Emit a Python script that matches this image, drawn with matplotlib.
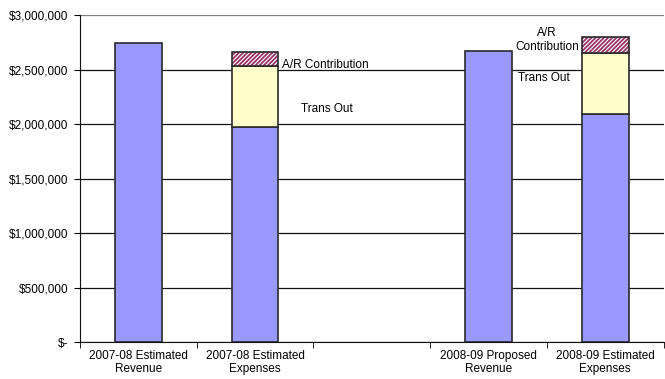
from matplotlib import pyplot as plt
from matplotlib.ticker import FuncFormatter

plt.rcParams['font.family'] = ['Liberation Sans', 'DejaVu Sans']
plt.rcParams['font.size'] = 8.5
plt.rcParams['hatch.linewidth'] = 1.3

categories = ['2007-08 Estimated\nRevenue', '2007-08 Estimated\nExpenses', '',
              '2008-09 Proposed\nRevenue', '2008-09 Estimated\nExpenses']
base = [2740000, 1972000, 0, 2670000, 2090000]
trans_out = [0, 560000, 0, 0, 560000]
ar_contribution = [0, 128000, 0, 0, 150000]

x = list(range(len(categories)))
width = 0.4
mid = [b + t for b, t in zip(base, trans_out)]
total = [m + a for m, a in zip(mid, ar_contribution)]

fig = plt.figure(figsize=(6.65, 3.79), dpi=100)
ax = fig.add_axes([0.120, 0.0976, 0.878, 0.8628])

shown = [i for i in x if total[i] > 0]
stacked = [i for i in x if ar_contribution[i] > 0]

ax.bar(shown, [base[i] for i in shown], width, color='#9999FF',
       edgecolor='#2a2a2a', linewidth=1.2, zorder=3)
ax.bar(stacked, [trans_out[i] for i in stacked], width,
       bottom=[base[i] for i in stacked], color='#FFFFCC',
       edgecolor='#2a2a2a', linewidth=1.2, zorder=3)
# hatch drawn in purple, outline drawn separately in black
ax.bar(stacked, [ar_contribution[i] for i in stacked], width,
       bottom=[mid[i] for i in stacked], color='white', hatch='////////',
       edgecolor='#993366', linewidth=0, zorder=3)
ax.bar(stacked, [ar_contribution[i] for i in stacked], width,
       bottom=[mid[i] for i in stacked], fill=False,
       edgecolor='#2a2a2a', linewidth=1.2, zorder=4)

ax.text(1.235, 2540000, 'A/R Contribution', ha='left', va='center')
ax.text(1.39, 2140000, 'Trans Out', ha='left', va='center')
ax.text(3.5, 2770000, 'A/R\nContribution', ha='center', va='center',
        linespacing=1.3)
ax.text(3.47, 2420000, 'Trans Out', ha='center', va='center')

ax.set_xlim(-0.5, len(categories) - 0.5)
ax.set_ylim(0, 3000000)
ax.set_yticks(range(0, 3000001, 500000))
ax.yaxis.set_major_formatter(FuncFormatter(
    lambda v, p: '$-' if v == 0 else '${:,.0f}'.format(v)))
ax.set_xticks(x)
ax.set_xticklabels(categories, linespacing=1.1)
ax.set_xticks([i - 0.5 for i in range(len(categories) + 1)], minor=True)
ax.tick_params(axis='x', which='major', length=0, pad=6)
ax.tick_params(axis='x', which='minor', length=4, direction='out')
ax.tick_params(axis='y', length=4, direction='out', pad=4)

ax.grid(axis='y', color='#111111', linewidth=0.9, zorder=0)
ax.yaxis.get_gridlines()[-1].set_color('#808080')
ax.set_axisbelow(True)
for side in ['top', 'right']:
    ax.spines[side].set_visible(False)
ax.spines['left'].set_color('#111111')
ax.spines['bottom'].set_color('#111111')

plt.savefig('out.png', dpi=100)
